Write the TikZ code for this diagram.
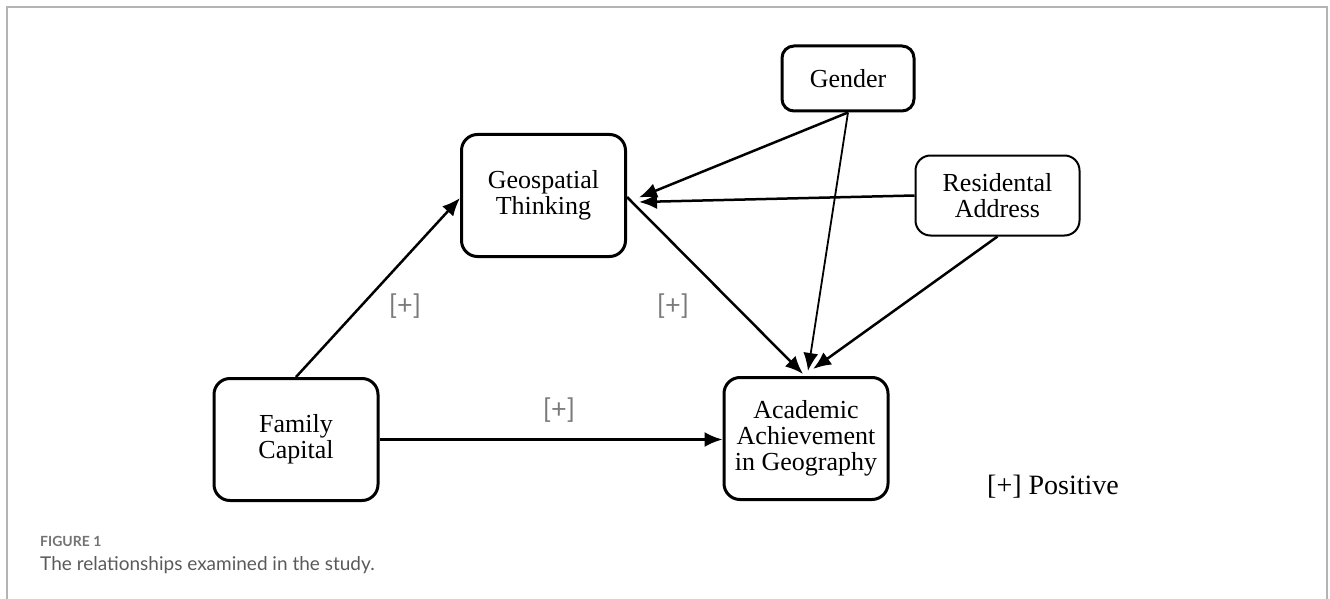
\documentclass[tikz,border=0pt]{standalone}
\usepackage{fontspec}
\setmainfont{Liberation Serif}
\newfontfamily\capfont{Lato}
\usetikzlibrary{arrows.meta}
\definecolor{framegray}{HTML}{B4B4B4}
\definecolor{labgray}{HTML}{7A7A7A}
\definecolor{capgray}{HTML}{5A5A5A}
\tikzset{
  bigbox/.style={draw, line width=3pt, rounded corners=16pt, align=center,
    font=\fontsize{26}{26}\selectfont, inner sep=0pt,
    minimum width=164pt, minimum height=122pt},
  smallbox/.style={draw, line width=3pt, rounded corners=12pt, align=center,
    font=\fontsize{26}{26}\selectfont, inner sep=0pt},
  thinbox/.style={draw, line width=2pt, rounded corners=15pt, align=center,
    font=\fontsize{26}{26}\selectfont, inner sep=0pt},
  arr/.style={-{Latex[length=18pt,width=15pt]}, line width=2.5pt},
  thinarr/.style={-{Latex[length=18pt,width=15pt]}, line width=1.8pt},
  plus/.style={font=\capfont\fontsize{27}{27}\selectfont, text=labgray, inner sep=0pt},
}
\begin{document}
\begin{tikzpicture}[x=1pt,y=-1pt]
\useasboundingbox (0,0) rectangle (1330,599);
% frame
\draw[framegray, line width=1.2pt] (7,700) -- (7,7) -- (1327,7) -- (1327,700);
% nodes
\node[bigbox] (geo) at (543.5,195.5) {Geospatial\\Thinking};
\node[bigbox] (fam) at (296,439.5) {Family\\Capital};
\node[bigbox] (aca) at (806,438.5) {Academic\\Achievement\\in Geography};
\node[smallbox, minimum width=132pt, minimum height=65pt] (gen) at (848,78.5) {Gender};
\node[thinbox, minimum width=164pt, minimum height=80pt] (res) at (997.5,195.5) {Residental\\Address};
% connectors
\draw[arr] (fam.north) -- ([shift={(0,2.5)}]geo.west);
\draw[arr] (fam.east) -- (aca.west |- fam.east);
\draw[arr] ([shift={(0,1.5)}]geo.east) -- ([shift={(-3,-2)}]aca.north);
\draw[arr] (gen.south) -- ([shift={(12,2)}]geo.east);
\draw[arr] (res.west) -- ([shift={(12,6.5)}]geo.east);
\draw[thinarr] (gen.south) -- ([shift={(2,-5)}]aca.north);
\draw[arr] (res.south) -- ([shift={(7,-7)}]aca.north);
% labels
\node[plus] (p1) at (405,306) {[+]};
\node[plus] (p2) at (673,306) {[+]};
\node[plus] (p3) at (559,410) {[+]};
\node[font=\fontsize{28}{28}\selectfont, inner sep=0pt] (leg) at (1053,487) {[+] Positive};
\node[anchor=west, font=\capfont\bfseries\fontsize{14}{14}\selectfont, text=capgray!85, inner sep=0pt] (fig) at (40,541) {FIGURE 1};
\node[anchor=west, font=\capfont\fontsize{19}{19}\selectfont, text=capgray, inner sep=0pt] (cap) at (40,565) {The relationships examined in the study.};
\end{tikzpicture}
\end{document}
